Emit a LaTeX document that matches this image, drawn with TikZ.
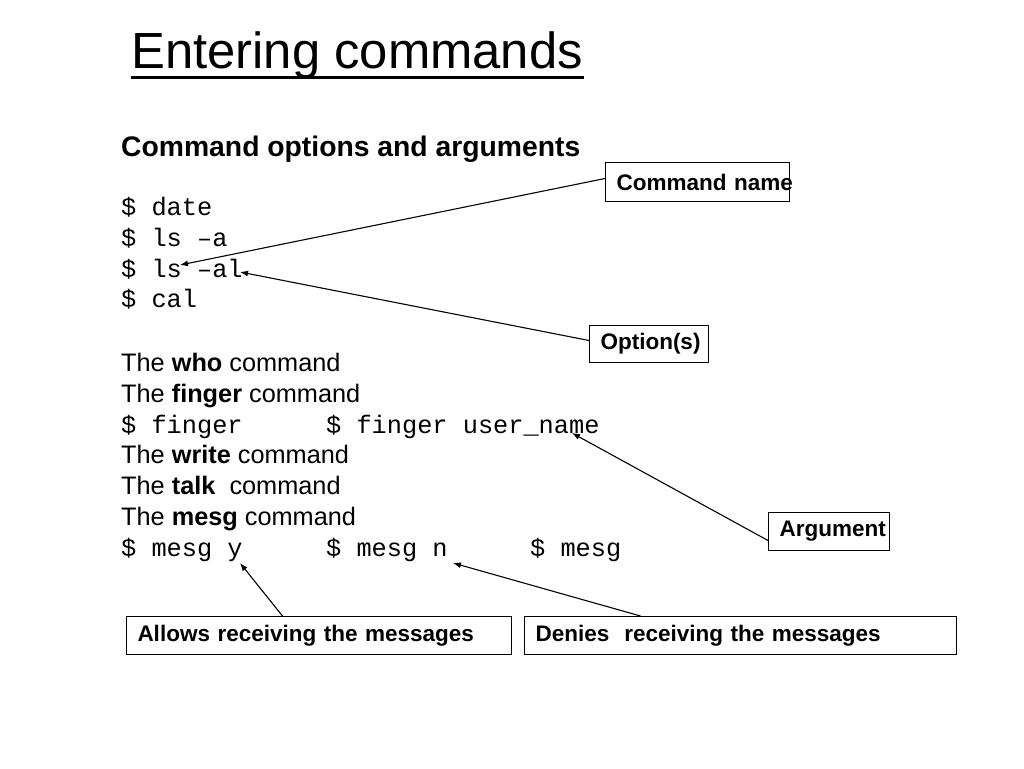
\documentclass[tikz,border=0pt]{standalone}
\usepackage{fontspec}
\setmainfont{Liberation Sans}
\setmonofont{Liberation Mono}
\usetikzlibrary{arrows.meta,calc}
\begin{document}
\begin{tikzpicture}[x=1pt,y=-1pt,
  txt/.style={anchor=base west,inner sep=0pt,font=\fontsize{25.3}{30}\selectfont},
  mono/.style={anchor=base west,inner sep=0pt,font=\fontsize{25.3}{30}\selectfont\ttfamily},
  callout/.style={draw,line width=1pt,anchor=north west,inner xsep=11pt,inner ysep=0pt,
    align=left,font=\fontsize{22.5}{26}\selectfont\bfseries},
  pointer/.style={line width=1.1pt,-{Latex[length=8pt,width=6pt]}}]
\useasboundingbox (0,0) rectangle (1024,768);
\fill[white] (0,0) rectangle (1024,768);
% title
\node[anchor=base west,inner sep=0pt,font=\fontsize{50.8}{60}\selectfont] (title) at (131,68.5) {Entering commands};
\draw[line width=3pt] (131,77) -- (584,77);
% heading
\node[anchor=base west,inner sep=0pt,font=\fontsize{28.3}{34}\selectfont\bfseries] (head) at (121,156) {Command options and arguments};
% command lines
\node[mono] (l1) at (121,215) {\$ date};
\node[mono] (l2) at (121,246) {\$ ls –a};
\node[mono] (l3) at (121,277) {\$ ls –al};
\node[mono] (l4) at (121,307) {\$ cal};
\node[txt] (t1) at (121,371.5) {The \textbf{who} command};
\node[txt] (t2) at (121,402.3) {The \textbf{finger} command};
\node[mono] (f1) at (121,433) {\$ finger};
\node[mono] (f2) at (326,433) {\$ finger user\_name};
\node[txt] (t3) at (121,463.9) {The \textbf{write} command};
\node[txt] (t4) at (121,494.7) {The \textbf{talk}\ \ command};
\node[txt] (t5) at (121,525.5) {The \textbf{mesg} command};
\node[mono] (m1) at (121,556.3) {\$ mesg y};
\node[mono] (m2) at (326,556.3) {\$ mesg n};
\node[mono] (m3) at (530,556.3) {\$ mesg};
% callout boxes
\node[callout,text width=162pt,minimum height=39pt] (cn) at (605,162) {\mbox{Command name}};
\node[callout,text width=97pt,minimum height=37pt] (opt) at (589,325) {\mbox{Option(s)}};
\node[callout,text width=99pt,minimum height=38pt] (arg) at (768,512) {\mbox{Argument}};
\node[callout,text width=363pt,minimum height=38pt] (allow) at (126,616) {\mbox{Allows receiving the messages}};
\node[callout,text width=410pt,minimum height=38pt] (deny) at (524,616) {\mbox{Denies\ \ receiving the messages}};
% arrow tips
\coordinate (pcn) at (180,265);
\coordinate (popt) at (240,272);
\coordinate (parg) at (572,433);
\coordinate (py) at (240,563);
\coordinate (pn) at (453,563);
% arrows
\draw[pointer] ([yshift=3.5pt]cn.west) -- (pcn);
\draw[pointer] ([yshift=3.5pt]opt.west) -- (popt);
\draw[pointer] ([yshift=-9pt]arg.west) -- (parg);
\draw[pointer] ([xshift=-36.5pt]allow.north) -- (py);
\draw[pointer] ([xshift=-100pt]deny.north) -- (pn);
\end{tikzpicture}
\end{document}
